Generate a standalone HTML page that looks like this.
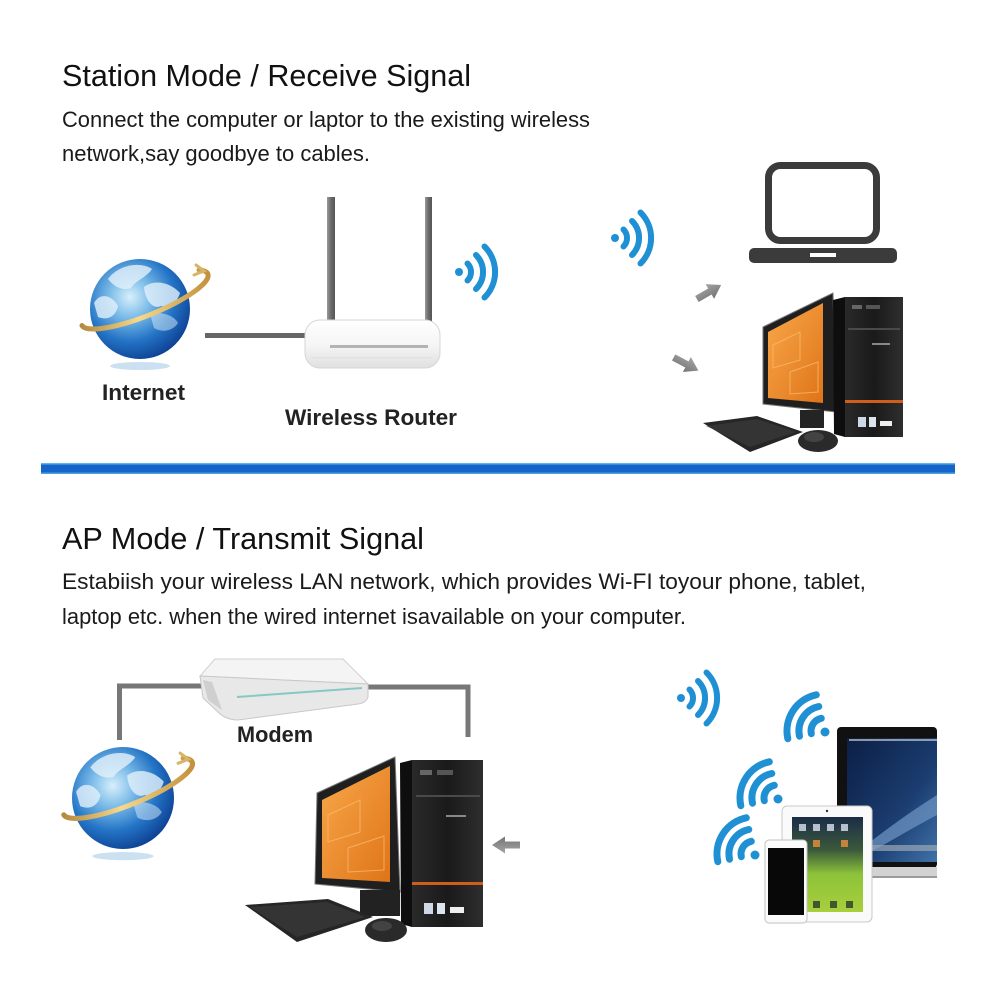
<!DOCTYPE html>
<html><head><meta charset="utf-8"><style>
html,body{margin:0;padding:0;background:#fff;}
svg{display:block;}
</style></head><body>
<svg width="1000" height="1000" viewBox="0 0 1000 1000" xmlns="http://www.w3.org/2000/svg">
<defs>
<radialGradient id="glb" cx="0.4" cy="0.38" r="0.68">
<stop offset="0" stop-color="#d8effb"/>
<stop offset="0.3" stop-color="#7dbde9"/>
<stop offset="0.65" stop-color="#2474c6"/>
<stop offset="1" stop-color="#0b3b8e"/>
</radialGradient>
<linearGradient id="gold" x1="0" y1="0" x2="1" y2="0">
<stop offset="0" stop-color="#b58a3c"/>
<stop offset="0.45" stop-color="#f4d98f"/>
<stop offset="1" stop-color="#c4923c"/>
</linearGradient>
<linearGradient id="org" x1="0" y1="0" x2="1" y2="1">
<stop offset="0" stop-color="#f8a84a"/>
<stop offset="1" stop-color="#df7418"/>
</linearGradient>
<linearGradient id="ant" x1="0" x2="1" y1="0" y2="0">
<stop offset="0" stop-color="#9a9a9a"/>
<stop offset="0.5" stop-color="#6a6a6a"/>
<stop offset="1" stop-color="#555"/>
</linearGradient>
<linearGradient id="rtr" x1="0" x2="0" y1="0" y2="1">
<stop offset="0" stop-color="#ffffff"/>
<stop offset="0.5" stop-color="#f6f6f6"/>
<stop offset="1" stop-color="#e0e0e0"/>
</linearGradient>
<linearGradient id="twr" x1="0" x2="1" y1="0" y2="0">
<stop offset="0" stop-color="#2a2a2a"/>
<stop offset="0.5" stop-color="#1a1a1a"/>
<stop offset="1" stop-color="#2e2e2e"/>
</linearGradient>
<linearGradient id="space" x1="0" x2="1" y1="0" y2="1">
<stop offset="0" stop-color="#0b1f45"/>
<stop offset="0.6" stop-color="#1b3d70"/>
<stop offset="1" stop-color="#3f72a8"/>
</linearGradient>
<linearGradient id="tab" x1="0" x2="0" y1="0" y2="1">
<stop offset="0" stop-color="#1c2c48"/>
<stop offset="0.35" stop-color="#3b5a3a"/>
<stop offset="0.6" stop-color="#8dc23a"/>
<stop offset="1" stop-color="#a8cf3c"/>
</linearGradient>
<linearGradient id="arr" x1="0" x2="0" y1="0" y2="1">
<stop offset="0" stop-color="#a5a5a5"/>
<stop offset="1" stop-color="#747474"/>
</linearGradient>
<clipPath id="gclip"><circle cx="0" cy="0" r="50"/></clipPath>
<g id="globe">
<ellipse cx="0" cy="57" rx="30" ry="4" fill="#a8cbe8" opacity="0.6"/>
<circle cx="0" cy="0" r="50" fill="url(#glb)"/>
<g clip-path="url(#gclip)" fill="#e3f1fb" opacity="0.8">
<path d="M-32,-30 C-22,-44 0,-48 12,-40 C6,-31 -4,-29 -9,-21 C-17,-18 -26,-22 -32,-30Z"/>
<path d="M4,-22 C14,-30 30,-27 40,-16 C37,-6 29,-1 21,-3 C13,1 5,-9 4,-22Z"/>
<path d="M-46,-6 C-40,-17 -28,-14 -22,-3 C-24,7 -32,12 -42,8Z"/>
<path d="M10,5 C20,2 34,6 38,14 C33,22 22,24 14,19Z" opacity="0.6"/>
</g>
<path d="M-58,16.5 A68,16 -22 0 0 68,-34.5 A68,16 -22 0 0 59,-39" fill="none" stroke="url(#gold)" stroke-width="5" stroke-linecap="round"/>
<path d="M56,-44 L64,-38 L54,-34" fill="none" stroke="#d7b567" stroke-width="3" stroke-linecap="round"/>
</g>
<path id="arrow" d="M0,-3.5 H15 V-8.5 L28,0 L15,8.5 V3.5 H0 Z" fill="url(#arr)"/>
</defs>

<!-- Section 1 text -->
<text x="62" y="86" font-family="Liberation Sans, Arial, sans-serif" font-size="30.5" fill="#111" textLength="409" lengthAdjust="spacingAndGlyphs">Station Mode / Receive Signal</text>
<text x="62" y="127" font-family="Liberation Sans, Arial, sans-serif" font-size="22" fill="#1a1a1a" textLength="528" lengthAdjust="spacingAndGlyphs">Connect the computer or laptor to the existing wireless</text>
<text x="62" y="161" font-family="Liberation Sans, Arial, sans-serif" font-size="22" fill="#1a1a1a" textLength="308" lengthAdjust="spacingAndGlyphs">network,say goodbye to cables.</text>

<!-- Globe 1 -->
<use href="#globe" transform="translate(140,309)"/>
<text x="102" y="400" font-family="Liberation Sans, Arial, sans-serif" font-size="22" font-weight="bold" fill="#222" textLength="83" lengthAdjust="spacingAndGlyphs">Internet</text>

<!-- cable -->
<rect x="205" y="333" width="101" height="5" fill="#666"/>

<!-- Router -->
<rect x="327" y="197" width="8" height="128" fill="url(#ant)"/>
<rect x="425" y="197" width="7" height="128" fill="url(#ant)"/>
<rect x="305" y="320" width="135" height="48" rx="15" fill="url(#rtr)" stroke="#d6d6d6" stroke-width="1"/>
<rect x="330" y="345" width="98" height="3" fill="#b3b3b3"/>
<rect x="312" y="357" width="120" height="1.5" fill="#e2e2e2"/>
<text x="285" y="425" font-family="Liberation Sans, Arial, sans-serif" font-size="22" font-weight="bold" fill="#222" textLength="172" lengthAdjust="spacingAndGlyphs">Wireless Router</text>

<!-- wifi icons section 1 -->
<g fill="none" stroke="#1f90d4" stroke-width="6" stroke-linecap="round">
<path d="M467.5,263.5 A12,12 0 0 1 467.5,280.5"/>
<path d="M476,255 A24,24 0 0 1 476,289"/>
<path d="M484.5,246.5 A36,36 0 0 1 484.5,297.5"/>
<path d="M623.5,229.5 A12,12 0 0 1 623.5,246.5"/>
<path d="M632,221 A24,24 0 0 1 632,255"/>
<path d="M640.5,212.5 A36,36 0 0 1 640.5,263.5"/>
</g>
<circle cx="459" cy="272" r="4" fill="#1f90d4"/>
<circle cx="615" cy="238" r="4" fill="#1f90d4"/>

<!-- laptop icon -->
<rect x="768.5" y="165.5" width="108" height="75" rx="12" fill="#fff" stroke="#3b3b3b" stroke-width="7"/>
<rect x="749" y="248" width="148" height="15" rx="5" fill="#3b3b3b"/>
<rect x="810" y="253" width="26" height="4" fill="#fff"/>

<!-- arrows section 1 -->
<use href="#arrow" transform="translate(709,292) rotate(-30) translate(-14,0)"/>
<use href="#arrow" transform="translate(686,364) rotate(28) translate(-14,0)"/>

<!-- Computer 1 -->
<g>
<polygon points="763,327 833,293 836,412 763,404" fill="#1f1f1f" stroke="#777" stroke-width="1"/>
<polygon points="768,332 823,303 823,403 768,398" fill="url(#org)"/>
<g fill="none" stroke="#fbbf74" stroke-width="1" opacity="0.7">
<path d="M773,345 L800,332 L800,360 L773,368Z"/>
<path d="M790,372 L818,362 L818,392 L790,394Z"/>
</g>
<rect x="800" y="410" width="24" height="18" fill="#242424"/>
<polygon points="833,300 845,297 845,437 834,434" fill="#0e0e0e"/>
<rect x="845" y="297" width="58" height="140" fill="url(#twr)"/>
<rect x="852" y="305" width="10" height="4" fill="#666"/>
<rect x="866" y="305" width="14" height="4" fill="#555"/>
<rect x="848" y="328" width="52" height="2" fill="#4a4a4a"/>
<rect x="872" y="343" width="18" height="2" fill="#888"/>
<rect x="845" y="400" width="58" height="3" fill="#cf5d1c"/>
<rect x="858" y="417" width="8" height="10" fill="#cfd8e6"/>
<rect x="869" y="417" width="7" height="10" fill="#dce4ee"/>
<rect x="880" y="421" width="12" height="5" fill="#eee"/>
<polygon points="703,423 757,416 803,432 750,452" fill="#262626"/>
<polygon points="706,426 757,419 796,432 750,447" fill="#3a3a3a" opacity="0.7"/>
<ellipse cx="818" cy="441" rx="20" ry="11" fill="#2a2a2a"/>
<ellipse cx="814" cy="437" rx="10" ry="5" fill="#555" opacity="0.6"/>
</g>

<!-- Blue divider -->
<rect x="41" y="463" width="914" height="11" fill="#1565c9"/>
<rect x="41" y="463" width="914" height="1.5" fill="#5fb4ee"/>
<rect x="41" y="472.5" width="914" height="1.5" fill="#4aa0e0"/>

<!-- Section 2 text -->
<text x="62" y="549" font-family="Liberation Sans, Arial, sans-serif" font-size="30.5" fill="#111" textLength="362" lengthAdjust="spacingAndGlyphs">AP Mode / Transmit Signal</text>
<text x="62" y="589" font-family="Liberation Sans, Arial, sans-serif" font-size="22" fill="#1a1a1a" textLength="804" lengthAdjust="spacingAndGlyphs">Estabiish your wireless LAN network, which provides Wi-FI toyour phone, tablet,</text>
<text x="62" y="624" font-family="Liberation Sans, Arial, sans-serif" font-size="22" fill="#1a1a1a" textLength="624" lengthAdjust="spacingAndGlyphs">laptop etc. when the wired internet isavailable on your computer.</text>

<!-- modem lines -->
<path d="M119.5,740 V686 H205" fill="none" stroke="#777" stroke-width="5"/>
<path d="M365,687 H468 V737" fill="none" stroke="#777" stroke-width="5"/>

<!-- Modem -->
<polygon points="215,659 343,659 368,684 200,676" fill="#f4f4f4" stroke="#d0d0d0" stroke-width="1"/>
<path d="M200,676 L368,684 L368,697 Q366,703 358,704 L238,720 Q226,720 218,712 L203,698 Z" fill="#e8e8e8" stroke="#c8c8c8" stroke-width="1"/>
<line x1="237" y1="697" x2="362" y2="688" stroke="#86c9c4" stroke-width="2"/>
<polygon points="203,680 212,682 222,710 208,700" fill="#cfcfcf"/>
<text x="237" y="742" font-family="Liberation Sans, Arial, sans-serif" font-size="22" font-weight="bold" fill="#222" textLength="76" lengthAdjust="spacingAndGlyphs">Modem</text>

<!-- Globe 2 -->
<use href="#globe" transform="translate(123,798) scale(1.02)"/>

<!-- Computer 2 -->
<g>
<polygon points="317,793 395,757 400,892 315,884" fill="#1f1f1f" stroke="#777" stroke-width="1"/>
<polygon points="322,800 390,766 390,882 322,878" fill="url(#org)"/>
<g fill="none" stroke="#fbbf74" stroke-width="1" opacity="0.7">
<path d="M328,815 L360,800 L360,832 L328,842Z"/>
<path d="M348,848 L384,836 L384,870 L348,872Z"/>
</g>
<rect x="360" y="890" width="40" height="26" fill="#222"/>
<polygon points="400,763 412,760 412,927 401,924" fill="#0e0e0e"/>
<rect x="412" y="760" width="71" height="167" fill="url(#twr)"/>
<rect x="420" y="770" width="12" height="5" fill="#666"/>
<rect x="437" y="770" width="16" height="5" fill="#555"/>
<rect x="416" y="795" width="64" height="2" fill="#4a4a4a"/>
<rect x="446" y="815" width="20" height="2" fill="#888"/>
<rect x="412" y="882" width="71" height="3" fill="#cf5d1c"/>
<rect x="424" y="903" width="9" height="11" fill="#cfd8e6"/>
<rect x="437" y="903" width="8" height="11" fill="#dce4ee"/>
<rect x="450" y="907" width="14" height="6" fill="#eee"/>
<polygon points="245,905 328,899 373,917 297,942" fill="#262626"/>
<polygon points="250,907 327,902 365,917 297,937" fill="#3a3a3a" opacity="0.7"/>
<ellipse cx="386" cy="930" rx="21" ry="12" fill="#2a2a2a"/>
<ellipse cx="382" cy="926" rx="10" ry="5" fill="#555" opacity="0.6"/>
</g>
<use href="#arrow" transform="translate(506,845) rotate(180) translate(-14,0)"/>

<!-- wifi icons section 2 -->
<g fill="none" stroke="#1f90d4" stroke-width="6" stroke-linecap="round">
<path d="M689.5,689.5 A12,12 0 0 1 689.5,706.5"/>
<path d="M698,681 A24,24 0 0 1 698,715"/>
<path d="M706.5,672.5 A36,36 0 0 1 706.5,723.5"/>
</g>
<circle cx="681" cy="698" r="4" fill="#1f90d4"/>
<g fill="none" stroke="#1f90d4" stroke-width="7" stroke-linecap="round">
<path d="M811.3,733.7 A13,13 0 0 1 821.3,718.3"/>
<path d="M799.5,736.2 A25,25 0 0 1 818.8,706.5"/>
<path d="M787.8,738.7 A37,37 0 0 1 816.3,694.8"/>
<path d="M764.3,800.7 A13,13 0 0 1 774.3,785.3"/>
<path d="M752.5,803.2 A25,25 0 0 1 771.8,773.5"/>
<path d="M740.8,805.7 A37,37 0 0 1 769.3,761.8"/>
<path d="M741.3,856.7 A13,13 0 0 1 751.3,841.3"/>
<path d="M729.5,859.2 A25,25 0 0 1 748.8,829.5"/>
<path d="M717.8,861.7 A37,37 0 0 1 746.3,817.8"/>
</g>
<circle cx="825" cy="732" r="4.5" fill="#1f90d4"/>
<circle cx="778" cy="799" r="4.5" fill="#1f90d4"/>
<circle cx="755" cy="855" r="4.5" fill="#1f90d4"/>

<!-- Laptop (photo) -->
<rect x="837" y="727" width="100" height="141" rx="4" fill="#111"/>
<rect x="847" y="738" width="90" height="124" fill="url(#space)"/>
<path d="M860,850 C885,830 910,812 937,795 L937,815 C912,828 890,842 870,852Z" fill="#6f97c4" opacity="0.7"/>
<rect x="849" y="739" width="88" height="2" fill="#c8c8c8" opacity="0.7"/>
<rect x="870" y="845" width="67" height="6" fill="#9aa7b5" opacity="0.7"/>
<rect x="837" y="867" width="100" height="11" fill="#d2d2d2"/>
<rect x="837" y="876" width="100" height="2" fill="#9a9a9a"/>

<!-- Tablet -->
<rect x="782" y="806" width="90" height="116" rx="5" fill="#fafafa" stroke="#c9c9c9" stroke-width="1"/>
<rect x="792" y="817" width="71" height="95" fill="url(#tab)"/>
<g fill="#cfd9e8" opacity="0.85">
<rect x="799" y="824" width="7" height="7"/><rect x="813" y="824" width="7" height="7"/><rect x="827" y="824" width="7" height="7"/><rect x="841" y="824" width="7" height="7"/>
</g>
<g fill="#e08a3a" opacity="0.85">
<rect x="813" y="840" width="7" height="7"/><rect x="841" y="840" width="7" height="7"/>
</g>
<g fill="#2a3a2a" opacity="0.8">
<rect x="813" y="901" width="7" height="7"/><rect x="830" y="901" width="7" height="7"/><rect x="846" y="901" width="7" height="7"/>
</g>
<circle cx="827" cy="811" r="1.2" fill="#333"/>

<!-- Phone -->
<rect x="765" y="840" width="42" height="83" rx="4" fill="#fbfbfb" stroke="#c2c2c2" stroke-width="1"/>
<rect x="768" y="848" width="36" height="67" fill="#080808"/>
</svg>
</body></html>
